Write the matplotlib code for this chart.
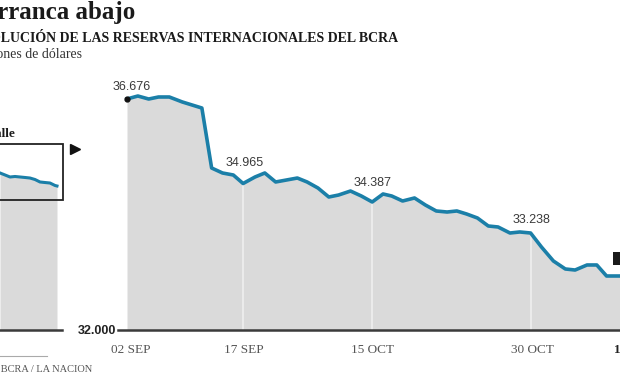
import numpy as np
import matplotlib
matplotlib.use("Agg")
import matplotlib.pyplot as plt
from matplotlib.patches import Rectangle
from matplotlib.lines import Line2D

# Reservas del BCRA, en millones de dólares
dias = [0, 1.0, 2.0, 2.9, 3.9, 5.1, 6.9, 7.8, 8.8, 9.8, 10.7, 11.8, 12.7, 13.7,
        15.7, 16.6, 17.6, 18.6, 19.5, 20.6, 21.6, 22.6, 23.6, 24.4, 25.4, 26.5,
        27.5, 28.5, 29.5, 30.4, 31.3, 32.3, 33.3, 34.2, 35.3, 36.2, 37.2, 38.2,
        39.3, 40.4, 41.3, 42.4, 43.3, 44.2, 45.0, 45.6]
reservas = [36676, 36736, 36675, 36716, 36716, 36615, 36493, 35279, 35178, 35137,
            34965, 35097, 35178, 34996, 35076, 34996, 34874, 34692, 34732, 34813,
            34712, 34591, 34753, 34712, 34611, 34672, 34530, 34409, 34388, 34409,
            34348, 34267, 34105, 34085, 33963, 33984, 33963, 33680, 33397, 33235,
            33214, 33316, 33316, 33093, 33093, 33093]

fechas = ["02 SEP", "17 SEP", "15 OCT", "30 OCT", "14 NOV"]
fechas_pos = [0.35, 10.8, 22.6, 37.4, 47.0]
grilla_pos = [10.7, 22.6, 37.2]

etiquetas = ["36.676", "34.965", "34.387", "33.238"]
etiquetas_pos = [0, 10.7, 22.6, 37.2]

# panel de detalle (izquierda)
detalle_x = [0, 1, 2, 3, 4, 5, 6, 7, 8, 9, 10, 11, 11.4]
detalle_y = [35178, 35138, 35097, 35107, 35097, 35087, 35076, 35046, 34996,
             34985, 34975, 34925, 34915]

piso = 32000
techo = 37060

AZUL = "#1b7fa8"
GRIS = "#dadada"
OSCURO = "#3a3a3a"

W, H = 620, 375
fig = plt.figure(figsize=(6.2, 3.75), dpi=100)
fig.patch.set_facecolor("white")


def fx(px):
    return px / W


def fy(py):
    return 1 - py / H


# main chart
ax = fig.add_axes([fx(118), fy(330), fx(680 - 118), (330 - 80) / H])
ax.set_xlim(-0.83, 50.97)
ax.set_ylim(piso, techo)
ax.fill_between(dias, reservas, piso, color=GRIS, lw=0, zorder=1)
for g in grilla_pos:
    ax.vlines(g, piso, np.interp(g, dias, reservas), color="#efefef", lw=1.2, zorder=2)
ax.plot(dias, reservas, color=AZUL, lw=2.6, solid_joinstyle="round", zorder=3)
ax.plot(dias[0], reservas[0], "o", color="#111111", ms=3.5, zorder=4)
ax.axhline(piso, color=OSCURO, lw=1.8, clip_on=False, zorder=5)

offsets = [(5, 12), (2, 21), (0, 19), (1, 13)]
for pos, txt, (dx, dy) in zip(etiquetas_pos, etiquetas, offsets):
    ax.annotate(txt, (pos, np.interp(pos, dias, reservas)),
                xytext=(dx * 0.72, dy * 0.72), textcoords="offset points",
                ha="center", va="center", fontsize=9, color="#3a3a3a",
                family="Liberation Sans")

# black box at right edge (label cut by the crop)
ax.add_patch(Rectangle((44.75, 33316), 3, 263, color="#1a1a1a", lw=0, zorder=6))

ax.set_xticks(fechas_pos)
ax.set_xticklabels(fechas, family="Liberation Serif", fontsize=9.5, color="#555555")
ax.get_xticklabels()[-1].set_fontweight("bold")
ax.get_xticklabels()[-1].set_color("#222222")
ax.set_yticks([piso])
ax.set_yticklabels(["32.000"], family="Liberation Sans", fontweight="bold",
                   fontsize=9, color="#222222")
ax.tick_params(axis="x", length=0, pad=10)
ax.tick_params(axis="y", length=0, pad=1)
for s in ax.spines.values():
    s.set_visible(False)
ax.patch.set_alpha(0)

# detail panel
axd = fig.add_axes([0, fy(330), fx(62), (330 - 80) / H])
axd.set_xlim(0, 12.4)
axd.set_ylim(piso, techo)
axd.fill_between(detalle_x, detalle_y, piso, color=GRIS, lw=0)
axd.plot(detalle_x, detalle_y, color=AZUL, lw=2.2)
axd.axhline(piso, color=OSCURO, lw=1.8, clip_on=False)
axd.add_patch(Rectangle((-0.1, (330 - 200) / 250), 1.116, 56 / 250,
                        transform=axd.transAxes, fill=False, ec="#222222",
                        lw=1.3, clip_on=False))
axd.plot(75 / 62, (330 - 149) / 250, marker=">", color="#111111", ms=7,
         transform=axd.transAxes, clip_on=False)
axd.axis("off")

# texts
fig.text(fx(135), fy(13), "Barranca abajo", ha="right", va="center",
         family="Liberation Serif", fontweight="bold", fontsize=18, color="#1a1a1a")
fig.text(fx(398), fy(38), "EVOLUCIÓN DE LAS RESERVAS INTERNACIONALES DEL BCRA",
         ha="right", va="center", family="Liberation Serif", fontweight="bold",
         fontsize=10, color="#1a1a1a")
fig.text(fx(82), fy(55), "En millones de dólares", ha="right", va="center",
         family="Liberation Serif", fontsize=10, color="#333333")
fig.text(fx(16), fy(134), "Detalle", ha="right", va="center",
         family="Liberation Serif", fontweight="bold", fontsize=9.5, color="#1a1a1a")
fig.text(fx(92), fy(370), "Fuente: BCRA / LA NACION", ha="right", va="center",
         family="Liberation Serif", fontsize=7.5, color="#555555")
fig.add_artist(Line2D([0, fx(47)], [fy(356), fy(356)], transform=fig.transFigure,
                      color="#aaaaaa", lw=0.8))

fig.savefig("out.png", dpi=100)
